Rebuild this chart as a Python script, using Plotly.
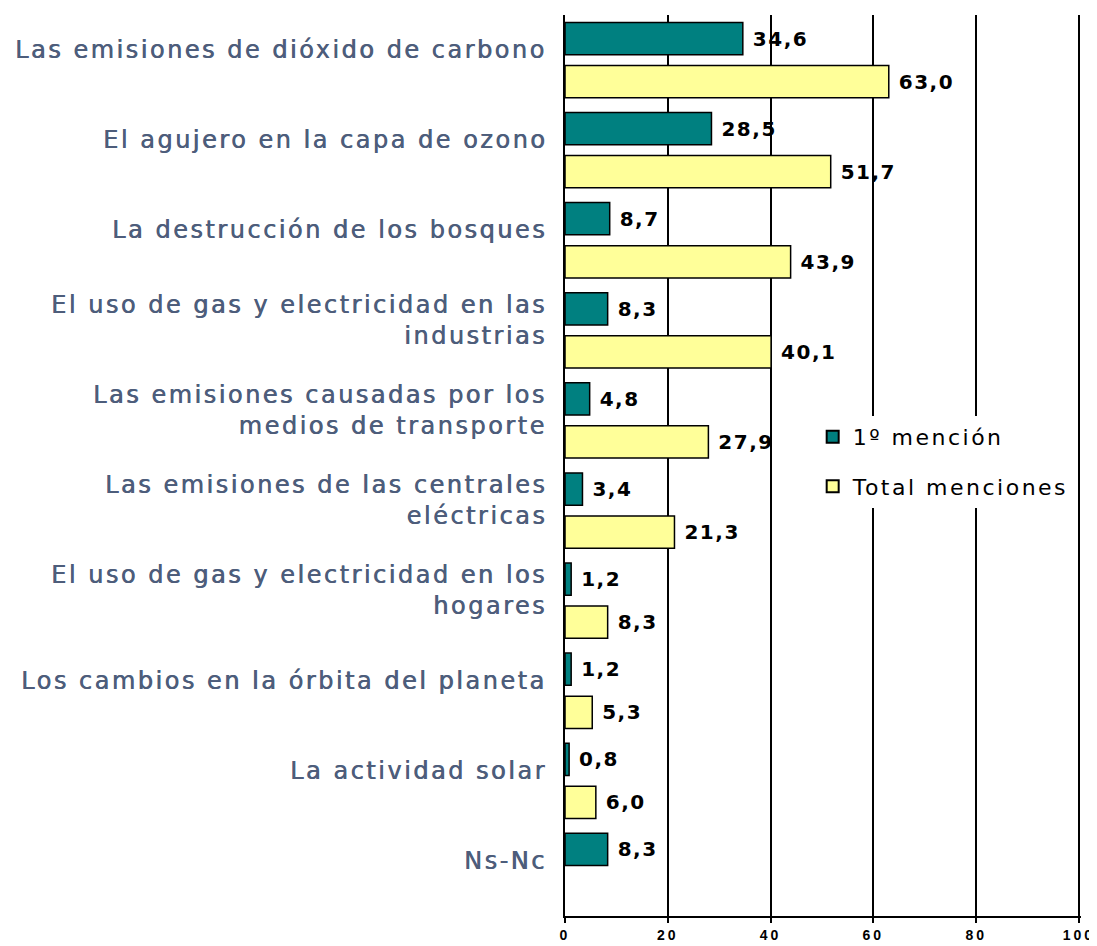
import plotly.graph_objects as go

# Data
categories = [
    'Las emisiones de dióxido de carbono',
    'El agujero en la capa de ozono',
    'La destrucción de los bosques',
    'El uso de gas y electricidad en las<br>industrias',
    'Las emisiones causadas por los<br>medios de transporte',
    'Las emisiones de las centrales<br>eléctricas',
    'El uso de gas y electricidad en los<br>hogares',
    'Los cambios en la órbita del planeta',
    'La actividad solar',
    'Ns-Nc',
]
primera_mencion = [34.6, 28.5, 8.7, 8.3, 4.8, 3.4, 1.2, 1.2, 0.8, 8.3]
total_menciones = [63.0, 51.7, 43.9, 40.1, 27.9, 21.3, 8.3, 5.3, 6.0, None]
series_names = ['1º mención', 'Total menciones']
x_ticks = [0, 20, 40, 60, 80, 100]

TEAL = '#008080'
YELLOW = '#FFFF99'
LABEL_COLOR = '#4D5D7B'
FONT = 'DejaVu Sans'


def spaced(text, px):
    """Wrap each line of text in a span with letter spacing."""
    lines = text.split('<br>')
    return '<br>'.join(f'<span style="letter-spacing:{px}px">{ln}</span>' for ln in lines)


fig = go.Figure()

for name, values, color in [(series_names[0], primera_mencion, TEAL),
                            (series_names[1], total_menciones, YELLOW)]:
    fig.add_trace(go.Bar(
        y=categories,
        x=values,
        orientation='h',
        name=spaced(name, 2.5),
        legendgroup=name,
        marker=dict(color=color, line=dict(color='black', width=1.5)),
        text=[None if v is None else ' ' + spaced(f'{v:.1f}'.replace('.', ','), 1.5) for v in values],
        textposition='outside',
        textfont=dict(family=FONT, size=20, color='black', weight='bold'),
        cliponaxis=False,
    ))

# Category labels as annotations, nudged slightly upward like the original
for cat in categories:
    fig.add_annotation(
        x=0, y=cat, xref='paper', yref='y',
        text=spaced(cat, 2.5), showarrow=False,
        xanchor='right', yanchor='middle', align='right',
        xshift=-16, yshift=10,
        font=dict(family=FONT, size=24, color=LABEL_COLOR,
                  shadow=f'0.6px 0px 0px {LABEL_COLOR}'),
    )

# page body adds an 8px offset, so the figure is sized to fit the window
fig.update_layout(
    width=1089,
    height=938,
    margin=dict(l=557, r=16, t=7, b=30),
    paper_bgcolor='white',
    plot_bgcolor='white',
    barmode='group',
    bargap=0.045,
    bargroupgap=0.25,
    showlegend=True,
    legend=dict(
        x=0.48, y=0.504, xanchor='left', yanchor='middle',
        bgcolor='white',
        font=dict(family=FONT, size=22, color='black'),
        tracegroupgap=18,
        itemsizing='constant',
    ),
)

fig.update_xaxes(
    range=[0, 100.4],
    tickvals=x_ticks,
    ticktext=[spaced(str(t), 3) for t in x_ticks],
    showgrid=True,
    gridcolor='black',
    gridwidth=2,
    showline=True,
    linecolor='black',
    linewidth=2,
    ticks='outside',
    ticklen=5,
    tickwidth=2,
    tickcolor='black',
    ticklabelstandoff=0,
    ticklabeloverflow='allow',
    tickfont=dict(family='Liberation Sans', size=14, color='black', weight='bold'),
    zeroline=False,
    automargin=False,
)

fig.update_yaxes(
    autorange='reversed',
    showticklabels=False,
    showgrid=False,
    showline=True,
    linecolor='black',
    linewidth=2,
    ticks='',
    zeroline=False,
    automargin=False,
)

fig.write_html("out.html")
